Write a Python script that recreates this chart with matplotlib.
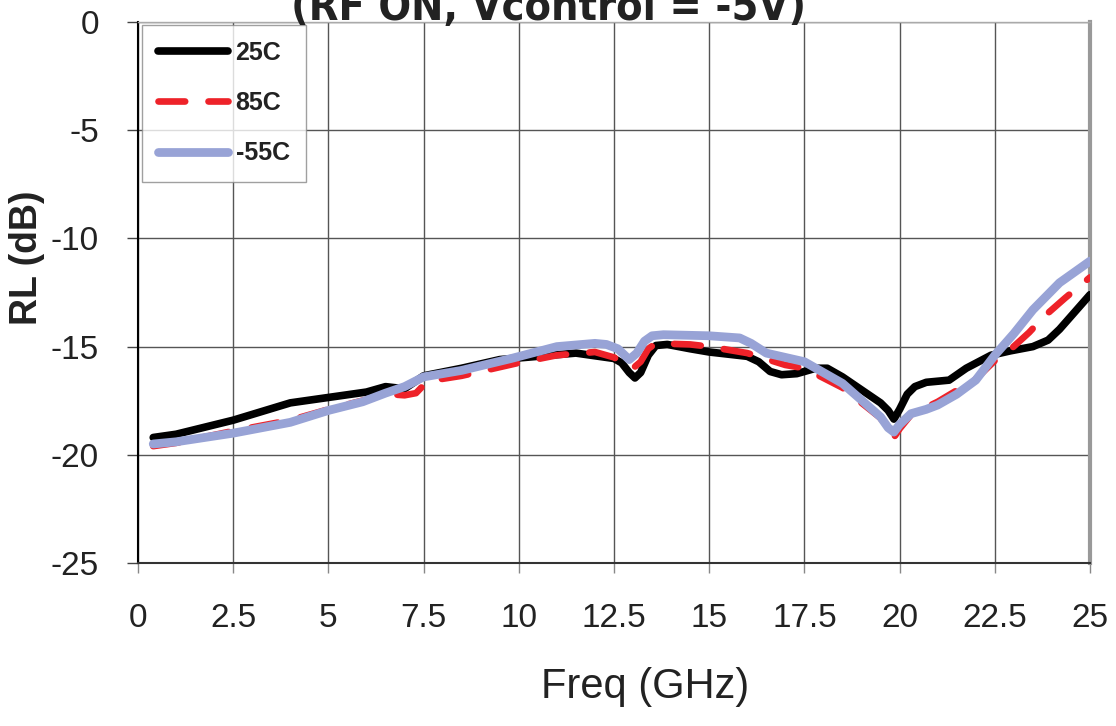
import numpy as np
import matplotlib
matplotlib.use('Agg')
import matplotlib.pyplot as plt

plt.rcParams['font.family'] = ['Liberation Sans', 'DejaVu Sans']
plt.rcParams['axes.unicode_minus'] = False

# 25C
freq_25 = [0.4, 1.0, 2.5, 4.0, 5.0, 6.0, 6.5, 7.0, 7.5, 8.5, 9.5, 10.5, 11.5,
           12.5, 12.7, 12.9, 13.05, 13.2, 13.4, 13.6, 13.9, 14.5, 15.0, 16.0,
           16.3, 16.6, 16.9, 17.3, 17.8, 18.1, 18.5, 19.0, 19.5, 19.7, 19.85,
           20.0, 20.2, 20.4, 20.7, 21.3, 21.75, 22.4, 22.9, 23.5, 23.9, 24.2,
           24.6, 25.0]
rl_25 = [-19.2, -19.05, -18.4, -17.6, -17.35, -17.1, -16.85, -16.95, -16.35,
         -16.0, -15.6, -15.45, -15.3, -15.55, -15.75, -16.2, -16.45, -16.2,
         -15.4, -14.95, -14.9, -15.1, -15.25, -15.45, -15.7, -16.15, -16.3,
         -16.25, -16.0, -16.0, -16.4, -17.0, -17.6, -17.95, -18.35, -17.9,
         -17.2, -16.85, -16.65, -16.55, -16.0, -15.4, -15.2, -15.0, -14.7,
         -14.2, -13.4, -12.6]

# 85C
freq_85 = [0.4, 1.0, 2.5, 4.0, 5.0, 6.0, 6.6, 7.0, 7.3, 7.6, 8.5, 9.5, 10.0,
           11.0, 12.0, 12.5, 12.8, 13.0, 13.2, 13.4, 13.6, 14.5, 15.0, 16.0,
           17.0, 17.5, 18.5, 19.5, 19.7, 19.85, 20.0, 20.3, 21.0, 22.0, 22.5,
           22.9, 23.4, 23.8, 24.35, 25.0]
rl_85 = [-19.6, -19.45, -18.9, -18.4, -17.9, -17.45, -17.2, -17.25, -17.15,
         -16.6, -16.35, -15.95, -15.75, -15.4, -15.25, -15.5, -15.8, -16.0,
         -15.7, -15.1, -14.85, -14.9, -15.0, -15.3, -15.85, -16.0, -16.9,
         -18.3, -18.85, -19.2, -18.8, -18.15, -17.55, -16.5, -15.65, -15.15,
         -14.35, -13.6, -12.75, -11.8]

# -55C
freq_m55 = [0.4, 1.0, 2.5, 4.0, 5.0, 5.9, 6.5, 7.0, 7.5, 8.5, 9.8, 11.0, 12.0,
            12.3, 12.6, 12.9, 13.1, 13.3, 13.5, 13.8, 15.0, 15.8, 16.1, 16.5,
            17.0, 17.5, 18.5, 19.5, 19.7, 19.85, 20.0, 20.3, 20.7, 21.0, 21.5,
            22.0, 22.5, 23.0, 23.5, 24.2, 25.0]
rl_m55 = [-19.5, -19.4, -19.0, -18.5, -17.95, -17.55, -17.15, -16.85, -16.4,
          -16.1, -15.55, -15.0, -14.85, -14.9, -15.1, -15.6, -15.3, -14.75,
          -14.5, -14.45, -14.5, -14.6, -14.85, -15.3, -15.5, -15.7, -16.7,
          -18.25, -18.75, -18.95, -18.6, -18.1, -17.9, -17.7, -17.2, -16.55,
          -15.4, -14.4, -13.3, -12.05, -11.05]

labels = ['25C', '85C', '-55C']

fig = plt.figure(figsize=(11.16, 7.26), dpi=100)
ax = fig.add_axes([138 / 1116, 1 - 563 / 726, (1090 - 138) / 1116, (563 - 22) / 726])

ax.plot(freq_25, rl_25, color='black', lw=5.5, solid_capstyle='round',
        solid_joinstyle='round', label=labels[0], zorder=3)
ax.plot(freq_85, rl_85, color='#ee2229', lw=4.8, dashes=(4, 3.5),
        dash_capstyle='round', dash_joinstyle='round', label=labels[1], zorder=4)
ax.plot(freq_m55, rl_m55, color='#98a3d6', lw=6.3, solid_capstyle='round',
        solid_joinstyle='round', label=labels[2], zorder=5)

ax.set_xlim(0, 25)
ax.set_ylim(-25, 0)
ax.set_xticks(np.arange(0, 25.1, 2.5))
ax.set_xticklabels(['0', '2.5', '5', '7.5', '10', '12.5', '15', '17.5', '20', '22.5', '25'])
ax.set_yticks(np.arange(-25, 0.1, 5))
ax.grid(True, color='#555555', lw=1)
ax.set_axisbelow(True)

ax.tick_params(axis='x', length=7, width=1, color='#888888', pad=22,
               labelsize=24, labelcolor='#222222')
ax.tick_params(axis='y', length=8, width=1, color='#444444', pad=20,
               labelsize=24, labelcolor='#222222')

ax.spines['left'].set_color('black')
ax.spines['left'].set_linewidth(1.5)
ax.spines['bottom'].set_color('#333333')
ax.spines['bottom'].set_linewidth(1.5)
ax.spines['right'].set_color('#999999')
ax.spines['right'].set_linewidth(3)
ax.spines['top'].set_color('#aaaaaa')
ax.spines['top'].set_linewidth(1)

leg = ax.legend(loc='upper left', bbox_to_anchor=(0.004, 0.995),
                prop={'weight': 'bold', 'size': 18}, frameon=True, fancybox=False,
                handlelength=2.8, handletextpad=0.3, labelspacing=1.05,
                borderpad=0.65, borderaxespad=0)
leg.get_frame().set_edgecolor('#888888')
leg.get_frame().set_linewidth(1)
for t in leg.get_texts():
    t.set_color('#222222')

fig.text(645 / 1116, 1 - 687 / 726, 'Freq (GHz)', fontsize=30, ha='center',
         va='center', color='#222222')
fig.text(27 / 1116, 1 - 258 / 726, 'RL (dB)', fontsize=27, fontweight='bold',
         rotation=90, ha='center', va='center', color='#222222')
fig.text(549 / 1116, 1 - 20 / 726, '(RF ON, Vcontrol = -5V)', fontsize=31,
         fontweight='bold', ha='center', va='baseline', color='#222222',
         family=['DejaVu Sans'], fontstretch='condensed')

fig.savefig('out.png', dpi=100, facecolor='white')
